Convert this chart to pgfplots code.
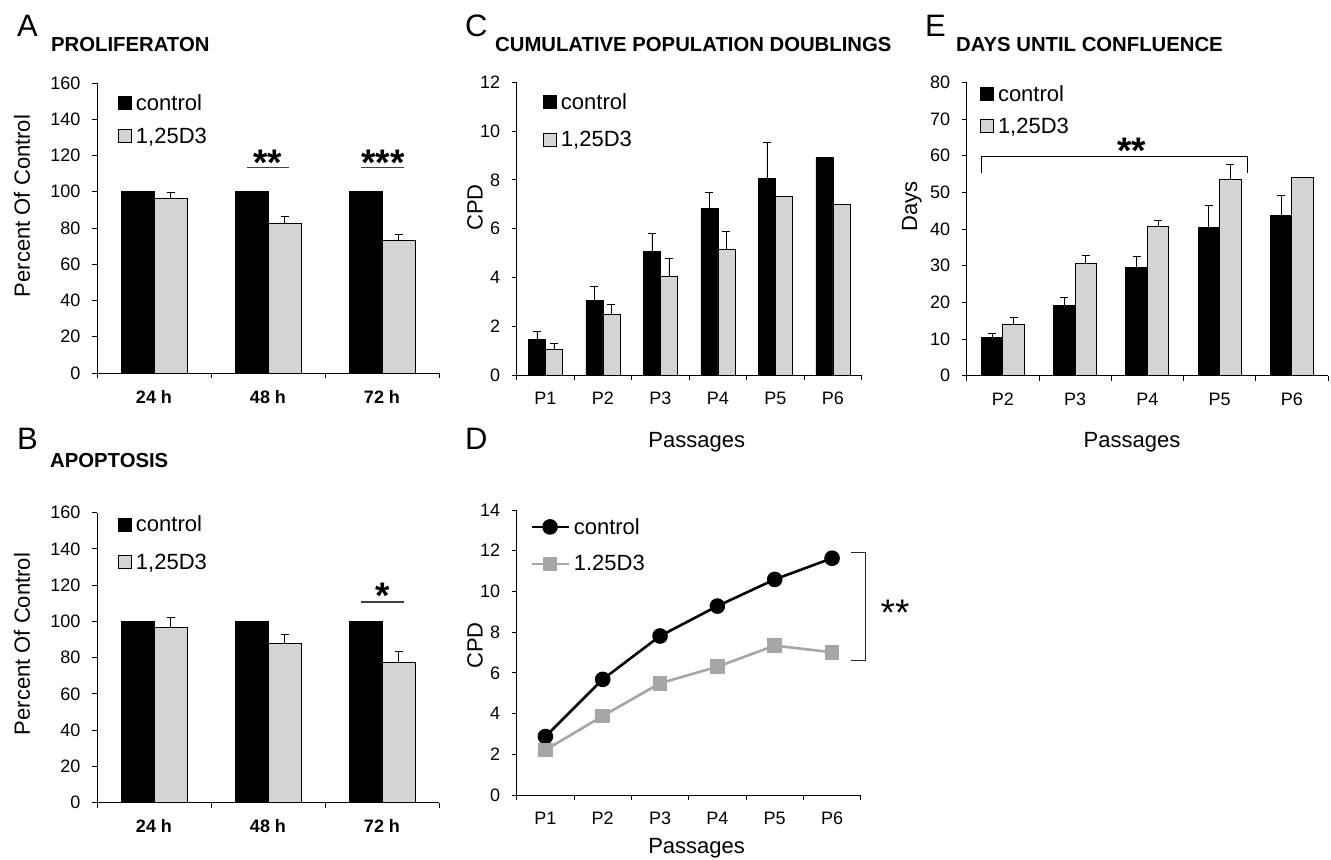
\documentclass[border=0pt]{standalone}
\usepackage{fontspec}
\setmainfont{Liberation Sans}
\usepackage{pgfplots}
\pgfplotsset{compat=1.18}
\definecolor{barg}{HTML}{D4D4D4}
\definecolor{lineg}{HTML}{A6A6A6}
\definecolor{sigg}{HTML}{404040}
\newcommand{\fsz}[1]{\fontsize{#1bp}{#1bp}\selectfont}

\pgfplotsset{
  panel/.style={
    scale only axis,
    axis x line=bottom, axis y line=left,
    axis line style={-, line width=0.9bp},
    xtick pos=bottom, ytick pos=left,
    tick align=outside,
    major tick length=5bp,
    tick style={black, line width=0.9bp},
    ymin=0,
    /pgf/number format/assume math mode=true,
    yticklabel style={font=\fsz{18}, xshift=-8bp},
    xticklabel style={font=\fsz{18}, anchor=north, yshift=-8.5bp},
    label style={font=\fsz{22}},
    legend style={draw=none, fill=none, anchor=north west, inner sep=0pt,
      font=\fsz{22}, column sep=4bp, nodes={inner sep=0pt}},
    legend cell align=left,
    clip=false,
  },
  sq/.style={legend image code/.code={\draw[##1, line width=0.8bp] (0bp,-6.5bp) rectangle (13bp,6.5bp);}},
  errs/.style={error bars/y dir=plus, error bars/y explicit,
    error bars/error bar style={line width=0.9bp, black},
    error bars/error mark options={rotate=90, mark size=4bp, line width=0.9bp, black}},
  ctrl/.style={sq, fill=black, draw=black, line width=0.8bp},
  vitd/.style={sq, fill=barg, draw=black, line width=0.8bp},
}

\begin{document}
\begin{tikzpicture}
\path[use as bounding box] (0,0) rectangle (1331bp,860bp);

% panel letters and titles
\node[anchor=base west, inner sep=0pt, font=\fsz{31}] at (17bp,823bp) {A};
\node[anchor=base west, inner sep=0pt, font=\fsz{20.3}\bfseries] at (51bp,808bp) {PROLIFERATON};
\node[anchor=base west, inner sep=0pt, font=\fsz{31}] at (17bp,410bp) {B};
\node[anchor=base west, inner sep=0pt, font=\fsz{20.3}\bfseries] at (50bp,392bp) {APOPTOSIS};
\node[anchor=base west, inner sep=0pt, font=\fsz{31}] at (465bp,823bp) {C};
\node[anchor=base west, inner sep=0pt, font=\fsz{20.3}\bfseries] at (495bp,808bp) {CUMULATIVE POPULATION DOUBLINGS};
\node[anchor=base west, inner sep=0pt, font=\fsz{31}] at (465bp,410bp) {D};
\node[anchor=base west, inner sep=0pt, font=\fsz{31}] at (925bp,823bp) {E};
\node[anchor=base west, inner sep=0pt, font=\fsz{20.3}\bfseries] at (956bp,808bp) {DAYS UNTIL CONFLUENCE};

% A: proliferation
\begin{axis}[panel, at={(97bp,487bp)}, anchor=south west,
    width=342bp, height=290bp,
    ybar=0pt, bar width=33bp,
    xmin=-0.5, xmax=2.5, ymax=160, ytick={0,20,...,160},
    xtick={-0.5,0.5,1.5,2.5},
    xticklabels={\textbf{24 h},\textbf{48 h},\textbf{72 h},{}},
    xticklabel style={xshift=57bp},
    ylabel={Percent Of Control},
    ylabel style={at={(axis description cs:-0.219,0.576)}, anchor=center},
    legend style={at={(0.0614,0.962)}, row sep=16bp}]
\addplot[ctrl] coordinates {(0,100) (1,100) (2,100)};
\addplot[vitd, errs] coordinates {(0,96.6) +- (0,2.9) (1,82.8) +- (0,3.6) (2,73.2) +- (0,3.1)};
\legend{control,{1,25D3}}
\draw[sigg, line width=1.5bp] (axis cs:0.82,113.3) -- (axis cs:1.18,113.3);
\draw[sigg, line width=1.5bp] (axis cs:1.82,113.3) -- (axis cs:2.19,113.3);
\node[anchor=north, inner sep=0pt, font=\fsz{37}\bfseries] at (axis cs:1.0,123) {**};
\node[anchor=north, inner sep=0pt, font=\fsz{37}\bfseries] at (axis cs:2.01,123) {***};
\end{axis}

% B: apoptosis
\begin{axis}[panel, at={(97bp,57.3bp)}, anchor=south west,
    width=342bp, height=290bp,
    ybar=0pt, bar width=33bp,
    xmin=-0.5, xmax=2.5, ymax=160, ytick={0,20,...,160},
    xtick={-0.5,0.5,1.5,2.5},
    xticklabels={\textbf{24 h},\textbf{48 h},\textbf{72 h},{}},
    xticklabel style={xshift=57bp},
    ylabel={Percent Of Control},
    ylabel style={at={(axis description cs:-0.219,0.547)}, anchor=center},
    legend style={at={(0.0614,0.99)}, row sep=20.5bp}]
\addplot[ctrl] coordinates {(0,100) (1,100) (2,100)};
\addplot[vitd, errs] coordinates {(0,96.6) +- (0,5.7) (1,87.7) +- (0,5.2) (2,77.6) +- (0,5.9)};
\legend{control,{1,25D3}}
\draw[sigg, line width=1.5bp] (axis cs:1.82,110.8) -- (axis cs:2.19,110.8);
\node[anchor=north, inner sep=0pt, font=\fsz{37}\bfseries] at (axis cs:2.01,121.2) {*};
\end{axis}

% C: cumulative population doublings (bars)
\begin{axis}[panel, at={(516.7bp,485bp)}, anchor=south west,
    width=345bp, height=292.7bp,
    ybar=0pt, bar width=17bp,
    xmin=-0.5, xmax=5.5, ymax=12, ytick={0,2,...,12},
    xtick={-0.5,0.5,...,5.5},
    xticklabels={P1,P2,P3,P4,P5,P6,{}},
    xticklabel style={xshift=28.75bp},
    xlabel={Passages},
    xlabel style={at={(axis description cs:0.522,-0.229)}, anchor=center},
    ylabel={CPD},
    ylabel style={at={(axis description cs:-0.121,0.572)}, anchor=center},
    legend style={at={(0.0762,0.962)}, row sep=20bp}]
\addplot[ctrl, errs] coordinates {(0,1.45) +- (0,0.34) (1,3.06) +- (0,0.59) (2,5.08) +- (0,0.74)
  (3,6.81) +- (0,0.68) (4,8.04) +- (0,1.49) (5,8.91) +- (0,0)};
\addplot[vitd, errs] coordinates {(0,1.04) +- (0,0.27) (1,2.49) +- (0,0.39) (2,4.06) +- (0,0.71)
  (3,5.15) +- (0,0.75) (4,7.33) +- (0,0) (5,6.98) +- (0,0)};
\legend{control,{1,25D3}}
\end{axis}

% D: cumulative population doublings (lines)
\begin{axis}[panel, at={(516.7bp,65bp)}, anchor=south west,
    width=344bp, height=285bp,
    xmin=-0.5, xmax=5.5, ymax=14, ytick={0,2,...,14},
    xtick={-0.5,0.5,...,5.5},
    xticklabels={P1,P2,P3,P4,P5,P6,{}},
    xticklabel style={xshift=28.67bp},
    xlabel={Passages},
    xlabel style={at={(axis description cs:0.523,-0.186)}, anchor=center},
    ylabel={CPD},
    ylabel style={at={(axis description cs:-0.121,0.525)}, anchor=center},
    legend image code/.code={\draw[mark repeat=2, mark phase=2, #1] plot coordinates {(0bp,0bp) (18.5bp,0bp) (37bp,0bp)};},
    legend style={at={(0.0387,0.972)}, row sep=20bp}]
\addplot[black, line width=2.6bp, mark=*, mark size=6.5bp, mark options={fill=black}]
  coordinates {(0,2.87) (1,5.68) (2,7.81) (3,9.28) (4,10.59) (5,11.63)};
\addplot[lineg, line width=2.6bp, mark=square*, mark size=6bp, mark options={fill=lineg}]
  coordinates {(0,2.21) (1,3.88) (2,5.49) (3,6.30) (4,7.34) (5,7.01)};
\legend{control,1.25D3}
\draw[black!85, line width=1.2bp] (axis cs:5.33,11.92) -- (axis cs:5.59,11.92) -- (axis cs:5.59,6.60) -- (axis cs:5.33,6.60);
\node[anchor=north, inner sep=0pt, font=\fsz{37}] at (axis cs:6.1,9.58) {**};
\end{axis}

% E: days until confluence
\begin{axis}[panel, at={(966.7bp,484.3bp)}, anchor=south west,
    width=361.3bp, height=293.4bp,
    ybar=0pt, bar width=21.5bp,
    xmin=-0.5, xmax=4.5, ymax=80, ytick={0,10,...,80},
    xtick={-0.5,0.5,...,4.5},
    xticklabels={P2,P3,P4,P5,P6,{}},
    xticklabel style={xshift=36.13bp},
    xlabel={Passages},
    xlabel style={at={(axis description cs:0.4575,-0.226)}, anchor=center},
    ylabel={Days},
    ylabel style={at={(axis description cs:-0.152,0.578)}, anchor=center},
    legend style={at={(0.0368,0.99)}, row sep=15bp}]
\addplot[ctrl, errs] coordinates {(0,10.4) +- (0,1.1) (1,19.2) +- (0,2.1) (2,29.5) +- (0,3.0)
  (3,40.4) +- (0,6.0) (4,43.8) +- (0,5.3)};
\addplot[vitd, errs] coordinates {(0,14.0) +- (0,1.8) (1,30.6) +- (0,2.2) (2,40.6) +- (0,1.6)
  (3,53.5) +- (0,4.2) (4,54.0) +- (0,0)};
\legend{control,{1,25D3}}
\draw[black, line width=1bp] (axis cs:-0.30,55.4) -- (axis cs:-0.30,59.7) -- (axis cs:3.39,59.7) -- (axis cs:3.39,55.4);
\node[anchor=north, inner sep=0pt, font=\fsz{37}\bfseries] at (axis cs:1.78,64.8) {**};
\end{axis}
\end{tikzpicture}
\end{document}
